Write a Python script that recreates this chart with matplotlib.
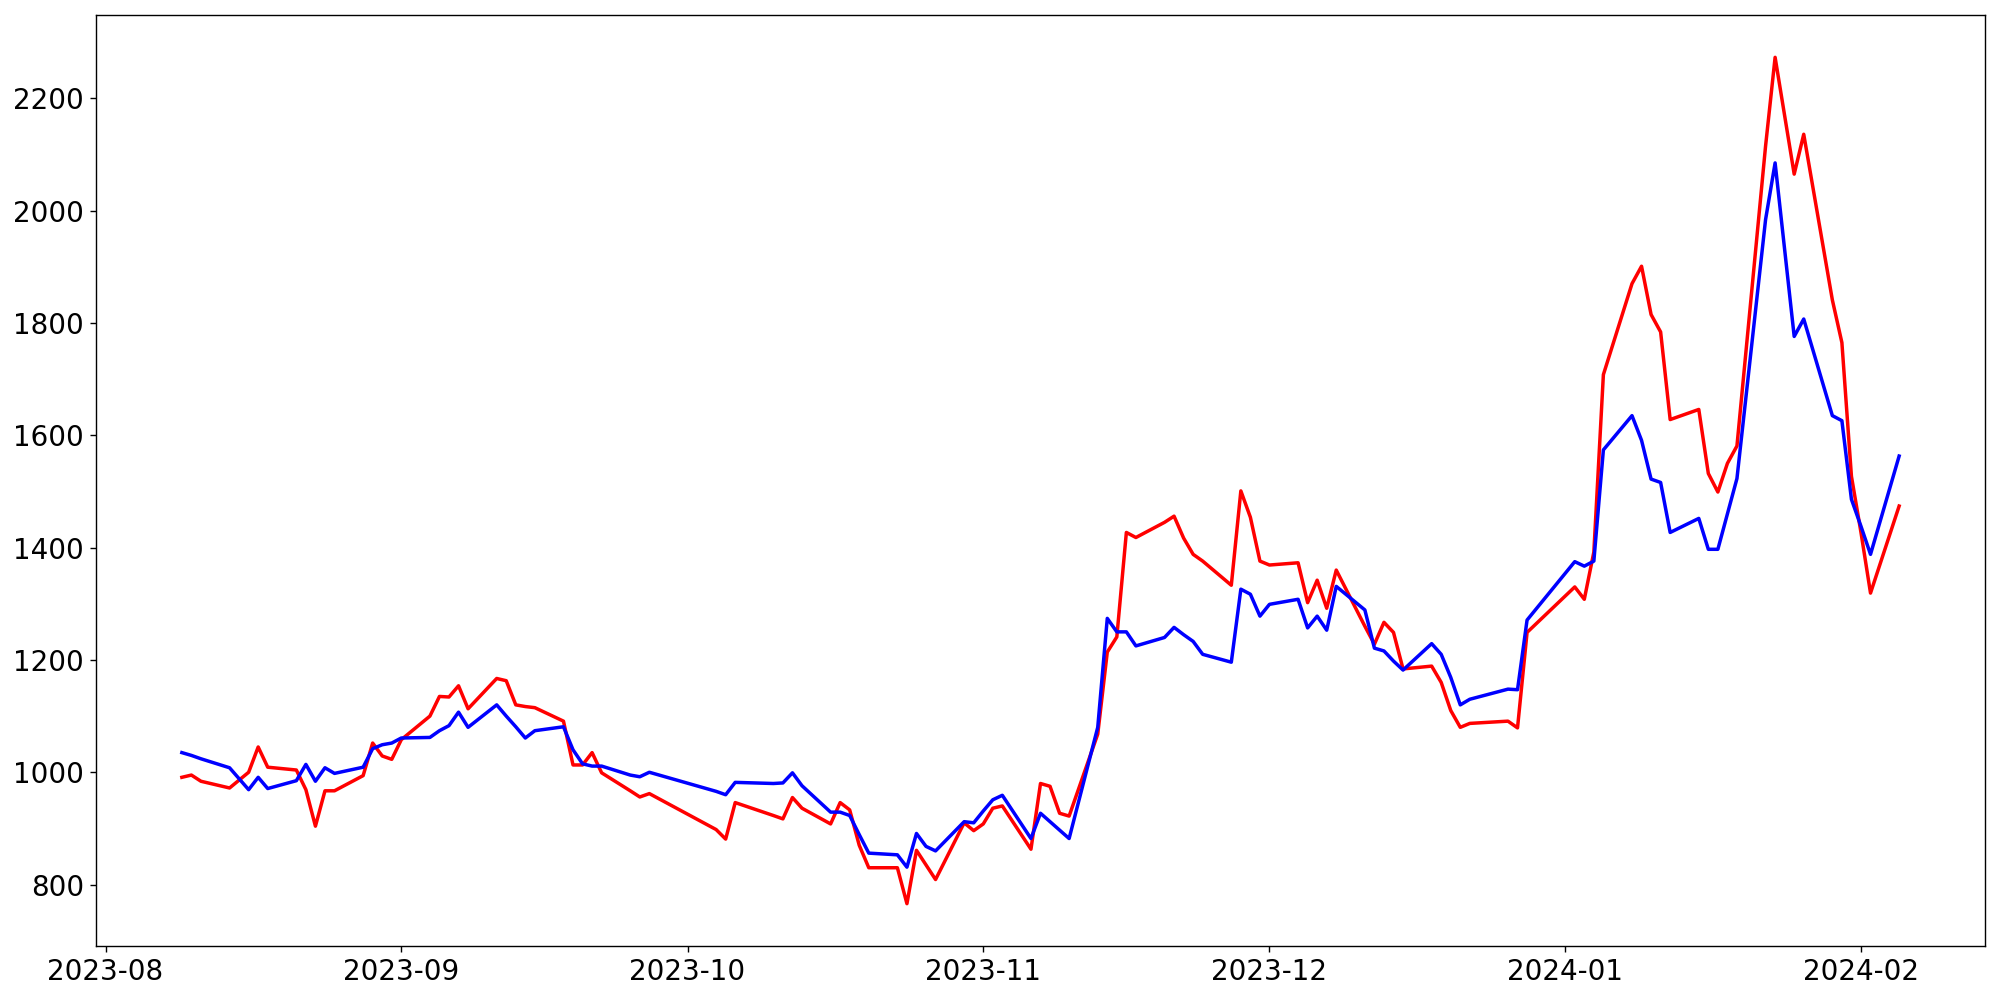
import matplotlib
matplotlib.use("Agg")
import matplotlib.pyplot as plt
import pandas as pd

dates = [
    "2023-08-09", "2023-08-10", "2023-08-11", "2023-08-14", "2023-08-16", "2023-08-17", "2023-08-18",
    "2023-08-21", "2023-08-22", "2023-08-23", "2023-08-24", "2023-08-25", "2023-08-28", "2023-08-29",
    "2023-08-30", "2023-08-31",
    "2023-09-01", "2023-09-04", "2023-09-05", "2023-09-06", "2023-09-07", "2023-09-08", "2023-09-11",
    "2023-09-12", "2023-09-13", "2023-09-14", "2023-09-15", "2023-09-18", "2023-09-19", "2023-09-20",
    "2023-09-21", "2023-09-22", "2023-09-25", "2023-09-26", "2023-09-27",
    "2023-10-04", "2023-10-05", "2023-10-06", "2023-10-10", "2023-10-11", "2023-10-12", "2023-10-13",
    "2023-10-16", "2023-10-17", "2023-10-18", "2023-10-19", "2023-10-20", "2023-10-23", "2023-10-24",
    "2023-10-25", "2023-10-26", "2023-10-27", "2023-10-30", "2023-10-31",
    "2023-11-01", "2023-11-02", "2023-11-03", "2023-11-06", "2023-11-07", "2023-11-08", "2023-11-09",
    "2023-11-10", "2023-11-13", "2023-11-14", "2023-11-15", "2023-11-16", "2023-11-17", "2023-11-20",
    "2023-11-21", "2023-11-22", "2023-11-23", "2023-11-24", "2023-11-27", "2023-11-28", "2023-11-29",
    "2023-11-30",
    "2023-12-01", "2023-12-04", "2023-12-05", "2023-12-06", "2023-12-07", "2023-12-08", "2023-12-11",
    "2023-12-12", "2023-12-13", "2023-12-14", "2023-12-15", "2023-12-18", "2023-12-19", "2023-12-20",
    "2023-12-21", "2023-12-22", "2023-12-26", "2023-12-27", "2023-12-28",
    "2024-01-02", "2024-01-03", "2024-01-04", "2024-01-05", "2024-01-08", "2024-01-09", "2024-01-10",
    "2024-01-11", "2024-01-12", "2024-01-15", "2024-01-16", "2024-01-17", "2024-01-18", "2024-01-19",
    "2024-01-22", "2024-01-23", "2024-01-25", "2024-01-26", "2024-01-29", "2024-01-30", "2024-01-31",
    "2024-02-01", "2024-02-02", "2024-02-05",
]

red_values = [
    991, 995, 984, 972, 1000, 1045, 1009, 1004, 969, 904, 967, 967, 994, 1052, 1029, 1023,
    1058, 1100, 1135, 1134, 1154, 1113, 1167, 1163, 1120, 1117, 1115, 1091, 1013, 1013, 1035, 999, 967, 956, 962,
    898, 881, 946, 923, 917, 955, 936, 908, 946, 933, 870, 830, 830, 766, 861, 835, 809, 910, 896,
    908, 936, 940, 863, 980, 975, 927, 922, 1068, 1214, 1241, 1427, 1418, 1445, 1456, 1417, 1388, 1376, 1333,
    1501, 1454, 1376,
    1369, 1373, 1302, 1342, 1292, 1360, 1260, 1228, 1267, 1249, 1184, 1189, 1160, 1110, 1080, 1087, 1091, 1079, 1249,
    1330, 1308, 1392, 1708, 1870, 1901, 1815, 1784, 1628, 1646, 1532, 1499, 1550, 1581, 2115, 2273, 2065, 2136,
    1841, 1765, 1527,
    1427, 1319, 1474,
]

blue_values = [
    1035, 1030, 1024, 1008, 969, 991, 971, 985, 1014, 984, 1008, 998, 1009, 1042, 1049, 1052,
    1061, 1062, 1074, 1083, 1107, 1080, 1120, 1100, 1081, 1061, 1074, 1081, 1040, 1015, 1011, 1011, 995, 992, 1000,
    966, 960, 982, 980, 981, 999, 976, 929, 929, 923, 889, 856, 853, 831, 891, 868, 860, 912, 910,
    931, 951, 959, 882, 927, 912, 897, 882, 1080, 1274, 1250, 1250, 1225, 1240, 1258, 1245, 1233, 1210, 1196,
    1326, 1317, 1278,
    1299, 1308, 1257, 1278, 1253, 1331, 1289, 1221, 1216, 1198, 1182, 1229, 1210, 1169, 1120, 1130, 1148, 1147, 1271,
    1375, 1367, 1376, 1574, 1635, 1591, 1522, 1516, 1427, 1452, 1397, 1397, 1460, 1523, 1984, 2085, 1776, 1807,
    1635, 1626, 1486,
    1438, 1388, 1563,
]

x = pd.to_datetime(dates)

plt.rcParams["font.family"] = ["DejaVu Sans"]
fig = plt.figure(figsize=(16, 8), dpi=125)
ax = fig.add_axes([0.048, 0.054, 0.9445, 0.931])
ax.plot(x, red_values, color="red", linewidth=2)
ax.plot(x, blue_values, color="blue", linewidth=2)
ax.set_yticks([800, 1000, 1200, 1400, 1600, 1800, 2000, 2200])
ax.tick_params(labelsize=16)
fig.savefig("out.png", dpi=125)
